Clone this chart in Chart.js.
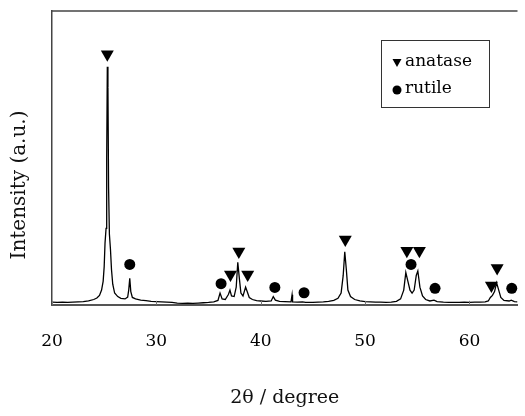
<!DOCTYPE html>
<html>
<head>
<meta charset="utf-8">
<script src="https://cdn.jsdelivr.net/npm/chart.js@4/dist/chart.umd.min.js"></script>
<style>
  html, body { margin: 0; padding: 0; background: #fff; overflow: hidden; }
  #wrap { width: 525px; height: 416px; }
</style>
</head>
<body>
<div id="wrap"><canvas id="c" width="525" height="416"></canvas></div>
<script>
const twoTheta = [
  20.0, 20.5, 21.0, 21.5, 22.0, 22.5, 23.0, 23.5, 24.0, 24.3, 24.55, 24.75, 24.9, 25.0, 25.08, 25.18, 25.24, 25.3, 25.36, 25.42, 25.5, 25.6, 25.7, 25.82, 26.0, 26.3, 26.6,
  27.0, 27.25, 27.35, 27.45, 27.55, 27.7, 28.0, 28.5, 29.0, 29.5, 30.0, 30.5, 31.0, 31.5, 32.0, 32.5, 33.0, 33.5, 34.0, 34.5, 35.0, 35.5, 35.9,
  36.1, 36.3, 36.6, 36.9, 37.05, 37.2, 37.45, 37.65, 37.8, 37.95, 38.1, 38.3, 38.55, 38.7, 38.9, 39.2, 39.6, 40.0, 40.5, 41.0, 41.2, 41.4, 41.8,
  42.3, 42.9, 43.0, 43.05, 43.5, 44.0, 44.3, 45.0, 45.5, 46.0, 46.5, 47.0, 47.4, 47.7, 47.9, 48.05, 48.2, 48.35, 48.6, 49.0, 49.5, 50.0, 50.5,
  51.0, 51.5, 52.0, 52.5, 53.0, 53.4, 53.7, 53.9, 54.1, 54.3, 54.5, 54.7, 54.9, 55.05, 55.25, 55.5, 55.8, 56.2, 56.6, 56.9, 57.5, 58.0, 58.5,
  59.0, 59.5, 60.0, 60.5, 61.0, 61.5, 61.8, 62.0, 62.2, 62.4, 62.6, 62.8, 63.0, 63.3, 63.8, 64.0, 64.3, 64.6
];
const intensity = [
  0.9, 0.8, 0.9, 0.8, 0.9, 1.0, 1.1, 1.3, 1.8, 2.3, 3.2, 5, 8, 13, 21, 26, 50, 81, 74, 40, 24, 19, 12, 7, 4, 2.8, 2.2,
  2.0, 2.6, 5, 9, 4.5, 2.5, 2.0, 1.6, 1.4, 1.2, 1.1, 1.0, 0.9, 0.8, 0.6, 0.5, 0.6, 0.5, 0.6, 0.7, 0.8, 1.0, 1.5,
  4.0, 2.0, 1.8, 3.5, 5.0, 3.0, 2.8, 6, 14.5, 9, 4, 3.0, 6, 4.5, 2.5, 1.8, 1.4, 1.3, 1.2, 1.3, 2.8, 1.6, 1.2,
  1.1, 1.0, 3.4, 1.0, 0.9, 1.0, 0.8, 0.8, 0.9, 1.0, 1.2, 1.5, 2.2, 4, 10, 18, 12, 5, 2.8, 1.8, 1.3, 1.1, 1.0,
  0.9, 0.9, 0.8, 0.9, 1.2, 2.0, 5, 11, 8, 5, 4, 5, 10, 11.5, 6, 3, 1.8, 1.3, 1.6, 1.1, 0.9, 0.8, 0.8,
  0.8, 0.9, 0.8, 0.9, 0.9, 1.0, 1.3, 2.5, 3.2, 4.5, 7.5, 5, 2.5, 1.5, 1.3, 1.6, 1.1, 1.0
];
const anataseX = [25.3, 37.1, 37.9, 38.75, 48.1, 54.0, 55.2, 62.1, 62.65];
const anataseMarkY = [85.3, 10.3, 18.1, 10.3, 22.2, 18.4, 18.4, 6.6, 12.5];
const rutileX = [27.45, 36.2, 41.35, 44.15, 54.4, 56.7, 64.05];
const rutileMarkY = [13.75, 7.2, 5.9, 4.1, 13.75, 5.6, 5.6];
const xTicks = [20, 30, 40, 50, 60];
const legendLabels = ['anatase', 'rutile'];
const xTitle = '2θ / degree';
const yTitle = 'Intensity (a.u.)';

const serif = "'DejaVu Serif', 'Liberation Serif', serif";

const pattern = twoTheta.map((x, i) => ({ x: x, y: intensity[i] }));
const anatase = anataseX.map((x, i) => ({ x: x, y: anataseMarkY[i] }));
const rutile = rutileX.map((x, i) => ({ x: x, y: rutileMarkY[i] }));

const framePlugin = {
  id: 'frame',
  afterDraw(chart) {
    const { ctx, chartArea: a } = chart;
    const xs = chart.scales.x;
    ctx.save();
    // top border
    ctx.strokeStyle = '#444';
    ctx.lineWidth = 1.5;
    ctx.beginPath();
    ctx.moveTo(a.left, a.top);
    ctx.lineTo(a.right, a.top);
    ctx.stroke();
    // small inward ticks on the bottom axis
    ctx.strokeStyle = '#777';
    ctx.lineWidth = 1;
    xTicks.forEach(v => {
      const px = Math.round(xs.getPixelForValue(v)) + 0.5;
      ctx.beginPath();
      ctx.moveTo(px, a.bottom);
      ctx.lineTo(px, a.bottom - 4);
      ctx.stroke();
    });
    // y axis title (rotated)
    ctx.fillStyle = '#111';
    ctx.font = "20px " + serif;
    ctx.textAlign = 'center';
    ctx.textBaseline = 'middle';
    ctx.translate(20, 185);
    ctx.rotate(-Math.PI / 2);
    ctx.fillText(yTitle, 0, 0);
    ctx.restore();

    ctx.save();
    // legend box
    const bx = 381, by = 40, bw = 108, bh = 67;
    ctx.lineWidth = 1;
    ctx.strokeStyle = '#333';
    ctx.strokeRect(bx + 0.5, by + 0.5, bw, bh);
    ctx.fillStyle = '#000';
    const tx = 397, ty = 63;
    ctx.beginPath();
    ctx.moveTo(tx - 4.5, ty - 4);
    ctx.lineTo(tx + 4.5, ty - 4);
    ctx.lineTo(tx, ty + 4);
    ctx.closePath();
    ctx.fill();
    ctx.beginPath();
    ctx.arc(397, 90, 4.5, 0, Math.PI * 2);
    ctx.fill();
    ctx.font = "17px " + serif;
    ctx.textBaseline = 'middle';
    ctx.textAlign = 'left';
    ctx.fillText(chart.data.datasets[1].label, 405, 62);
    ctx.fillText(chart.data.datasets[2].label, 405, 89);
    ctx.restore();
  }
};

new Chart(document.getElementById('c'), {
  type: 'line',
  data: {
    datasets: [
      {
        label: 'pattern',
        data: pattern,
        borderColor: '#000',
        borderWidth: 1.3,
        pointRadius: 0,
        tension: 0,
        fill: false
      },
      {
        type: 'scatter',
        label: legendLabels[0],
        data: anatase,
        pointStyle: 'triangle',
        rotation: 180,
        pointRadius: 7.5,
        backgroundColor: '#000',
        borderColor: '#000',
        borderWidth: 0,
        clip: false
      },
      {
        type: 'scatter',
        label: legendLabels[1],
        data: rutile,
        pointStyle: 'circle',
        pointRadius: 5.5,
        backgroundColor: '#000',
        borderColor: '#000',
        borderWidth: 0,
        clip: false
      }
    ]
  },
  options: {
    responsive: false,
    animation: false,
    layout: { padding: { left: 0, top: 11, right: 0, bottom: 4 } },
    plugins: {
      legend: { display: false },
      tooltip: { enabled: false }
    },
    scales: {
      x: {
        type: 'linear',
        min: 20,
        max: 64.6,
        afterBuildTicks(scale) {
          scale.ticks = xTicks.map(v => ({ value: v }));
        },
        grid: { display: false, drawTicks: false },
        border: { display: true, color: '#555', width: 2 },
        ticks: {
          padding: 27,
          color: '#000',
          font: { family: serif, size: 17 },
          autoSkip: false,
          maxRotation: 0
        },
        title: {
          display: true,
          text: xTitle,
          color: '#111',
          font: { family: serif, size: 19 },
          padding: { top: 7, bottom: 3 }
        }
      },
      y: {
        min: 0,
        max: 100,
        grid: { display: false, drawTicks: false },
        border: { display: true, color: '#444', width: 1.5 },
        ticks: { display: false },
        afterFit(scale) { scale.width = 52; }
      }
    }
  },
  plugins: [framePlugin]
});
</script>
</body>
</html>
